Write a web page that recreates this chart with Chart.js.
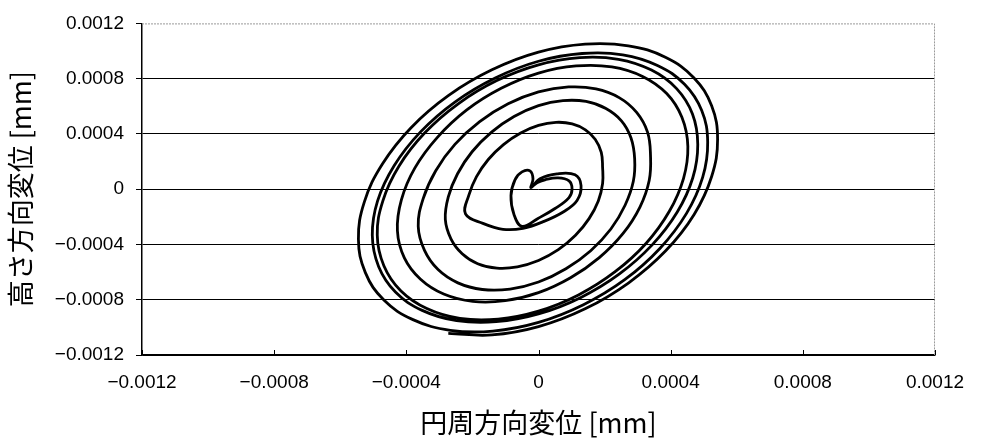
<!DOCTYPE html>
<html>
<head>
<meta charset="utf-8">
<script src="https://cdn.jsdelivr.net/npm/chart.js@4/dist/chart.umd.min.js"></script>
<style>
html,body{margin:0;padding:0;background:#ffffff;}
#wrap{width:983px;height:441px;position:relative;}
</style>
</head>
<body>
<div id="wrap"><canvas id="c" width="983" height="441"></canvas></div>
<script>
// ---- tick values / labels ----
const xTickValues = [-0.0012, -0.0008, -0.0004, 0, 0.0004, 0.0008, 0.0012];
const xTickLabels = ['−0.0012', '−0.0008', '−0.0004', '0', '0.0004', '0.0008', '0.0012'];
const yTickValues = [-0.0012, -0.0008, -0.0004, 0, 0.0004, 0.0008, 0.0012];
const yTickLabels = ['−0.0012', '−0.0008', '−0.0004', '0', '0.0004', '0.0008', '0.0012'];
const xTitle = '円周方向変位 [mm]';
const yTitle = '高さ方向変位 [mm]';

// ---- trajectory (values in 1e-6 mm steps) ----
// circumferential displacement [mm]
const circumferential = [
  -22.7e-6, -4.5e-6, 19.7e-6, 59.1e-6, 92.4e-6, 101.5e-6, 92.4e-6, 50e-6, -1.5e-6, -50e-6,
  -74.2e-6, -83.3e-6, -71.2e-6, -50e-6, -25.8e-6, -16.7e-6, -22.7e-6, 4.5e-6, 56.1e-6, 110.6e-6,
  128.8e-6, 116.7e-6, 77.3e-6, 16.7e-6, -47e-6, -107.6e-6, -168.2e-6,
  -221e-6, -211e-6, -188e-6, -152e-6, -106e-6, -54e-6, 0, 53e-6, 102e-6, 142e-6, 172e-6, 190e-6,
  194e-6, 194e-6, 181e-6, 153e-6, 112e-6, 60e-6, 0, -64e-6, -126e-6, -184e-6, -231e-6, -265e-6,
  -282e-6, -273e-6, -245e-6, -201e-6, -142e-6, -74e-6, 0, 74e-6, 144e-6, 204e-6, 251e-6, 280e-6,
  291e-6, 287e-6, 262e-6, 219e-6, 158e-6, 83e-6, 0, -86e-6, -170e-6, -244e-6, -304e-6, -345e-6,
  -364e-6, -349e-6, -311e-6, -253e-6, -178e-6, -92e-6, 0, 91e-6, 174e-6, 244e-6, 297e-6, 330e-6,
  339e-6, 335e-6, 307e-6, 256e-6, 184e-6, 97e-6, 0, -101e-6, -199e-6, -287e-6, -357e-6, -406e-6,
  -427e-6, -415e-6, -374e-6, -306e-6, -218e-6, -113e-6, 0, 114e-6, 222e-6, 315e-6, 388e-6, 434e-6,
  452e-6, 439e-6, 396e-6, 326e-6, 232e-6, 121e-6, 0, -122e-6, -238e-6, -338e-6, -417e-6, -468e-6,
  -488e-6, -471e-6, -422e-6, -344e-6, -243e-6, -126e-6, 0, 125e-6, 242e-6, 342e-6, 418e-6, 466e-6,
  482e-6, 467e-6, 420e-6, 344e-6, 244e-6, 127e-6, 0, -128e-6, -248e-6, -352e-6, -433e-6, -484e-6,
  -503e-6, -487e-6, -437e-6, -357e-6, -253e-6, -131e-6, 0, 132e-6, 255e-6, 360e-6, 442e-6, 494e-6,
  512e-6, 497e-6, 448e-6, 368e-6, 262e-6, 136e-6, 0, -138e-6, -267e-6, -380e-6, -468e-6, -524e-6,
  -545e-6, -527e-6, -472e-6, -385e-6, -272e-6, -141e-6, 0, 141e-6, 272e-6, 384e-6, 470e-6, 524e-6,
  542e-6, 524e-6, 471e-6, 385e-6, 272e-6, 141e-6, 0, -141e-6, -273e-6
];
// height displacement [mm]
const height = [
  10.8e-6, 46.6e-6, 68.1e-6, 82.4e-6, 60.9e-6, 3.6e-6, -60.9e-6, -139.8e-6, -211.5e-6, -268.8e-6,
  -182.8e-6, -46.6e-6, 68.1e-6, 125.4e-6, 132.6e-6, 75.3e-6, 10.8e-6, 75.3e-6, 111.1e-6, 103.9e-6,
  25.1e-6, -82.4e-6, -161.3e-6, -233e-6, -283.1e-6, -290.3e-6, -247.3e-6,
  -179e-6, -45e-6, 89e-6, 215e-6, 323e-6, 407e-6, 462e-6, 484e-6, 473e-6, 430e-6, 360e-6, 266e-6,
  157e-6, 41e-6, -85e-6, -213e-6, -334e-6, -438e-6, -516e-6, -562e-6, -571e-6, -539e-6, -467e-6, -359e-6,
  -219e-6, -56e-6, 112e-6, 271e-6, 413e-6, 526e-6, 605e-6, 641e-6, 635e-6, 584e-6, 495e-6, 371e-6,
  221e-6, 57e-6, -116e-6, -288e-6, -445e-6, -576e-6, -672e-6, -723e-6, -726e-6, -678e-6, -582e-6, -443e-6,
  -268e-6, -68e-6, 134e-6, 324e-6, 489e-6, 618e-6, 704e-6, 740e-6, 726e-6, 663e-6, 556e-6, 413e-6,
  244e-6, 63e-6, -129e-6, -320e-6, -495e-6, -641e-6, -749e-6, -807e-6, -812e-6, -759e-6, -652e-6, -497e-6,
  -301e-6, -77e-6, 154e-6, 375e-6, 572e-6, 730e-6, 840e-6, 892e-6, 885e-6, 816e-6, 692e-6, 520e-6,
  310e-6, 79e-6, -160e-6, -391e-6, -597e-6, -765e-6, -882e-6, -940e-6, -935e-6, -864e-6, -735e-6, -554e-6,
  -332e-6, -84e-6, 168e-6, 408e-6, 618e-6, 786e-6, 900e-6, 952e-6, 940e-6, 862e-6, 728e-6, 544e-6,
  324e-6, 83e-6, -165e-6, -403e-6, -615e-6, -785e-6, -903e-6, -959e-6, -951e-6, -877e-6, -744e-6, -559e-6,
  -334e-6, -85e-6, 170e-6, 415e-6, 631e-6, 805e-6, 926e-6, 982e-6, 973e-6, 896e-6, 759e-6, 569e-6,
  340e-6, 87e-6, -175e-6, -427e-6, -653e-6, -836e-6, -964e-6, -1027e-6, -1021e-6, -944e-6, -802e-6, -604e-6,
  -362e-6, -92e-6, 184e-6, 447e-6, 679e-6, 864e-6, 992e-6, 1050e-6, 1038e-6, 955e-6, 807e-6, 604e-6,
  360e-6, 92e-6, -183e-6, -446e-6, -679e-6, -866e-6, -995e-6, -1055e-6, -1044e-6
];

const points = circumferential.map((x, i) => ({x: x, y: height[i]}));

const tickFont = {family: "'Liberation Sans', Arial, sans-serif", size: 19};
const titleFont = {family: "'Noto Sans CJK JP', sans-serif", size: 27};

const framePlugin = {
  id: 'frame',
  beforeDatasetsDraw(chart) {
    const {ctx, chartArea: a, scales: {x}} = chart;
    ctx.save();
    ctx.strokeStyle = '#9a9a9a';
    ctx.lineWidth = 1;
    ctx.setLineDash([2, 1]);
    ctx.beginPath();
    ctx.moveTo(a.left, a.top + 0.5);
    ctx.lineTo(a.right - 0.5, a.top + 0.5);
    ctx.lineTo(a.right - 0.5, a.bottom);
    ctx.stroke();
    ctx.setLineDash([]);
    ctx.strokeStyle = '#000';
    xTickValues.forEach(v => {
      const px = Math.round(x.getPixelForValue(v)) + 0.5;
      ctx.beginPath();
      ctx.moveTo(px, a.bottom);
      ctx.lineTo(px, a.bottom - 5);
      ctx.stroke();
    });
    ctx.restore();
  }
};

new Chart(document.getElementById('c'), {
  type: 'scatter',
  data: {
    datasets: [{
      data: points,
      showLine: true,
      borderColor: '#000',
      borderWidth: 2.8,
      pointRadius: 0,
      tension: 0.4,
      fill: false
    }]
  },
  options: {
    responsive: false,
    devicePixelRatio: 1,
    animation: false,
    layout: {padding: {top: 19, right: 48, left: 0, bottom: 0}},
    plugins: {legend: {display: false}, tooltip: {enabled: false}},
    scales: {
      x: {
        type: 'linear',
        min: -0.0012, max: 0.0012,
        afterBuildTicks: s => { s.ticks = xTickValues.map(v => ({value: v})); },
        afterFit: s => { s.height = 86; },
        ticks: {
          callback: (v, i) => xTickLabels[i],
          font: tickFont, color: '#000', padding: 16,
          maxRotation: 0, autoSkip: false
        },
        grid: {drawOnChartArea: false, drawTicks: false},
        border: {color: '#000', width: 1.5},
        title: {display: true, text: xTitle, font: titleFont, color: '#000', padding: {top: 0, bottom: 2}}
      },
      y: {
        type: 'linear',
        min: -0.0012, max: 0.0012,
        afterBuildTicks: s => { s.ticks = yTickValues.map(v => ({value: v})); },
        afterFit: s => { s.width = 142; },
        ticks: {
          callback: (v, i) => yTickLabels[i],
          font: tickFont, color: '#000', padding: 12, autoSkip: false
        },
        grid: {
          color: c => (c.tick && Math.abs(c.tick.value - 0.0012) < 1e-9) ? 'rgba(0,0,0,0)' : '#000',
          tickColor: '#000',
          lineWidth: 1,
          tickLength: 6,
          drawTicks: true
        },
        border: {color: '#000', width: 1.5},
        title: {display: true, text: yTitle, font: titleFont, color: '#000', padding: {top: 5, bottom: 0}}
      }
    }
  },
  plugins: [framePlugin]
});
</script>
</body>
</html>
